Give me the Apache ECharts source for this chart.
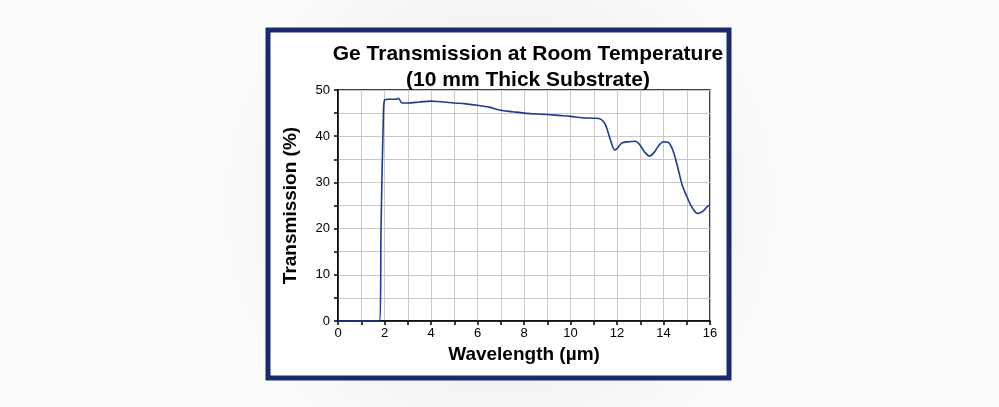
<!DOCTYPE html><html><head><meta charset="utf-8">
<script src="https://cdn.jsdelivr.net/npm/echarts@6/dist/echarts.min.js"></script>
<style>html,body{margin:0;padding:0;}#c{width:999px;height:407px;}</style></head><body><div id="c"></div>
<script>
const wavelength=[0,1.0,1.8,1.85,1.95,2.0,2.2,2.5,2.6,2.75,3.0,3.5,4.0,4.3,5.0,5.5,6.0,6.5,7.0,7.5,8.0,8.5,9.0,9.5,10.0,10.5,11.0,11.3,11.5,11.7,11.9,12.0,12.2,12.5,12.8,13.0,13.2,13.4,13.6,13.8,14.0,14.2,14.4,14.6,14.8,15.0,15.2,15.4,15.5,15.7,15.85,16.0];
const transmission=[0,0,0,20,44,47.8,48.0,48.0,48.2,47.2,47.2,47.4,47.6,47.5,47.2,47.0,46.7,46.3,45.6,45.3,45.0,44.8,44.7,44.5,44.3,44.0,43.9,43.7,42.5,39.5,37.0,37.3,38.5,38.8,38.9,38.0,36.5,35.7,36.5,38.0,38.8,38.7,37.0,33.5,29.5,27.0,24.8,23.4,23.3,23.8,24.6,25.2];
const xTicks=[0,2,4,6,8,10,12,14,16];
const yTicks=[0,10,20,30,40,50];
const chart=echarts.init(document.getElementById('c'));
const ax={color:'#000',width:1.5};
chart.setOption({
 backgroundColor:{type:'radial',x:0.5,y:0.5,r:0.7,colorStops:[{offset:0,color:'#d8d8d8'},{offset:0.5,color:'#f0f0f0'},{offset:1,color:'#fbfbfb'}]},
 graphic:[{type:'rect',z:-1,shape:{x:268,y:30,width:461,height:348},style:{fill:'#fff',stroke:'#1b2a6b',lineWidth:5}}],
 title:{text:'Ge Transmission at Room Temperature\n(10 mm Thick Substrate)',left:523,top:36,textAlign:'center',textStyle:{fontFamily:'Liberation Sans',fontWeight:'bold',fontSize:21,lineHeight:26,color:'#000'}},
 grid:{left:338,right:289,top:90,bottom:86,show:true,borderColor:'#000',borderWidth:1.5},
 xAxis:{type:'value',min:0,max:16,interval:1,name:'Wavelength (µm)',nameLocation:'middle',nameGap:24,
  nameTextStyle:{fontFamily:'Liberation Sans',fontWeight:'bold',fontSize:19,color:'#000'},
  axisLine:{lineStyle:ax},axisTick:{length:4,lineStyle:ax},
  axisLabel:{fontFamily:'Liberation Sans',fontSize:13,color:'#000',margin:6,formatter:v=>xTicks.includes(v)?String(v):''},
  splitLine:{lineStyle:{color:'#c8c8c8',width:1}}},
 yAxis:{type:'value',min:0,max:50,interval:5,name:'Transmission (%)',nameLocation:'middle',nameGap:38,
  nameTextStyle:{fontFamily:'Liberation Sans',fontWeight:'bold',fontSize:19,color:'#000'},
  axisLine:{show:true,lineStyle:ax},axisTick:{show:true,length:4,lineStyle:ax},
  axisLabel:{fontFamily:'Liberation Sans',fontSize:13,color:'#000',margin:8,formatter:v=>yTicks.includes(v)?String(v):''},
  splitLine:{lineStyle:{color:'#c8c8c8',width:1}}},
 series:[{type:'line',data:wavelength.map((w,i)=>[w,transmission[i]]),smooth:0.3,showSymbol:false,lineStyle:{color:'#1a3a8c',width:1.6}}]
});
</script></body></html>
